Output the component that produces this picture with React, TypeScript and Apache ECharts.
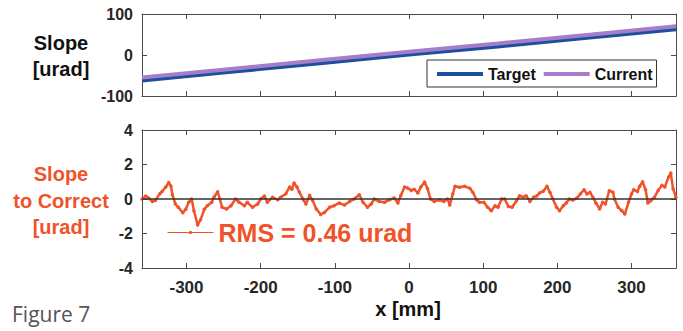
import React, { useEffect, useRef } from "react";
import * as echarts from "echarts";

// ---- data ----
const slopeX = [-360, -240, -120, 0, 120, 240, 360];
const targetSlope = [-62, -41, -20, 1, 21, 42, 63];
const currentSlope = [-55, -34, -13, 8, 28, 49, 70];

const residX = [
  -360, -355, -351, -346, -342, -336, -333, -328, -324, -321, -319, -315, -311, -305, -301, -297, -293, -290, -285,
  -281, -276, -272, -266, -263, -258, -255, -252, -246, -240, -234, -229, -222, -218, -211, -204, -200, -195, -191,
  -184, -177, -173, -166, -161, -158, -155, -151, -148, -143, -139, -134, -130, -125, -119, -114, -107, -101, -94,
  -87, -80, -74, -67, -62, -56, -51, -47, -40, -33, -26, -20, -15, -11, -6, -2, 3, 7, 12, 16, 21, 25, 29, 34, 41,
  47, 52, 55, 59, 62, 68, 75, 82, 86, 91, 95, 101, 106, 111, 116, 120, 125, 129, 134, 139, 145, 149, 154, 158, 163,
  168, 172, 176, 181, 186, 190, 194, 199, 203, 208, 212, 216, 221, 226, 231, 236, 240, 244, 248, 252, 257, 261, 265,
  270, 275, 277, 282, 287, 291, 296, 300, 303, 308, 311, 315, 319, 322, 326, 331, 336, 341, 345, 350, 353, 356, 360,
];
const residY = [
  0.0, 0.17, 0.06, -0.14, -0.08, 0.31, 0.43, 0.7, 0.95, 0.75, 0.25, -0.29, -0.48, -0.8, -0.6, -0.19, 0.0, -0.68, -1.5,
  -1.2, -0.6, -0.39, -0.19, 0.1, 0.42, 0.0, -0.48, -0.58, -0.39, 0.0, -0.19, -0.39, -0.19, -0.48, -0.29, 0.0, 0.17,
  -0.19, 0.1, -0.04, 0.1, 0.31, 0.7, 0.56, 0.92, 0.7, 0.41, 0.0, -0.29, 0.21, -0.08, -0.58, -0.9, -0.78, -0.48, -0.39,
  -0.23, -0.35, -0.14, 0.0, 0.25, -0.19, -0.48, -0.29, 0.0, -0.14, -0.19, -0.04, 0.06, -0.23, 0.21, 0.7, 0.64, 0.5,
  0.56, 0.35, 0.7, 0.99, 0.6, 0.0, -0.14, -0.06, -0.14, 0.0, -0.35, 0.29, 0.74, 0.68, 0.74, 0.62, 0.39, -0.04, -0.19,
  -0.19, -0.48, -0.68, -0.39, -0.48, 0.0, 0.0, -0.43, -0.48, -0.1, 0.19, 0.1, 0.19, -0.14, 0.1, 0.17, 0.35, 0.45,
  0.74, 0.39, 0.0, -0.48, -0.68, -0.39, -0.23, 0.0, -0.06, 0.04, 0.29, 0.54, 0.29, 0.39, 0.1, -0.23, -0.58, -0.19,
  -0.29, 0.48, 0.39, 0.0, -0.48, -0.68, -0.87, -0.19, 0.29, 0.54, 0.43, 0.74, 1.0, 0.54, -0.23, -0.1, 0.1, 0.5, 0.79,
  0.7, 1.28, 1.5, 0.6, 0.1,
];

const topYTicks = { min: -100, max: 100, interval: 100 };
const botYTicks = { min: -4, max: 4, interval: 2 };
const xRange = { min: -360, max: 360 };

const FONT = "'Liberation Sans', Arial, sans-serif";
const ORANGE = "#f0532a";
const AXIS_COLOR = "#4a4a4a";
const LABEL_COLOR = "#262626";

export default function App() {
  const ref = useRef<HTMLDivElement>(null);
  useEffect(() => {
    if (!ref.current) return;
    const chart = echarts.init(ref.current, null, { renderer: "svg" });

    const xAxisBase = (gridIndex: number, position: string, showLabel: boolean) => ({
      type: "value",
      gridIndex,
      position,
      min: xRange.min,
      max: xRange.max,
      splitNumber: 7,
      axisLine: { show: true, onZero: false, lineStyle: { color: AXIS_COLOR, width: 1 } },
      axisTick: { show: true, inside: true, length: 5, lineStyle: { color: AXIS_COLOR } },
      axisLabel: {
        show: showLabel,
        showMinLabel: false,
        showMaxLabel: false,
        margin: 11,
        fontFamily: FONT,
        fontWeight: "bold",
        fontSize: 17,
        color: LABEL_COLOR,
      },
      splitLine: { show: false },
    });

    const yAxisBase = (gridIndex: number, position: string, showLabel: boolean, t: any) => ({
      type: "value",
      gridIndex,
      position,
      min: t.min,
      max: t.max,
      interval: t.interval,
      axisLine: { show: true, onZero: false, lineStyle: { color: AXIS_COLOR, width: 1 } },
      axisTick: { show: true, inside: true, length: 5, lineStyle: { color: AXIS_COLOR } },
      axisLabel: {
        show: showLabel,
        margin: 9,
        fontFamily: FONT,
        fontWeight: "bold",
        fontSize: 16,
        color: LABEL_COLOR,
      },
      splitLine: { show: false },
    });

    const option: any = {
      animation: false,
      backgroundColor: "#ffffff",
      grid: [
        { left: 142, right: 7, top: 14, height: 82 },
        { left: 142, right: 7, top: 130, height: 138 },
      ],
      xAxis: [
        xAxisBase(0, "bottom", false),
        xAxisBase(0, "top", false),
        xAxisBase(1, "bottom", true),
        xAxisBase(1, "top", false),
      ],
      yAxis: [
        yAxisBase(0, "left", true, topYTicks),
        yAxisBase(0, "right", false, topYTicks),
        yAxisBase(1, "left", true, botYTicks),
        yAxisBase(1, "right", false, botYTicks),
      ],
      legend: [
        {
          data: [
            { name: "Target", icon: "rect" },
            { name: "Current", icon: "rect" },
          ],
          left: 427,
          top: 60,
          orient: "horizontal",
          backgroundColor: "#ffffff",
          borderColor: "#333333",
          borderWidth: 1,
          borderRadius: 0,
          padding: [6, 4, 5, 10],
          itemWidth: 46,
          itemHeight: 4,
          itemGap: 8,
          textStyle: { fontFamily: FONT, fontWeight: "bold", fontSize: 16, color: "#111111" },
        },
        {
          data: ["RMS = 0.46 urad"],
          left: 167,
          top: 220,
          padding: 0,
          itemWidth: 46,
          itemHeight: 4,
          lineStyle: { width: 1 },
          textStyle: { fontFamily: FONT, fontWeight: "bold", fontSize: 25, color: ORANGE },
        },
      ],
      series: [
        {
          name: "Target",
          type: "line",
          xAxisIndex: 0,
          yAxisIndex: 0,
          data: slopeX.map((x, i) => [x, targetSlope[i]]),
          symbol: "none",
          lineStyle: { color: "#1d4f9f", width: 4 },
          itemStyle: { color: "#1d4f9f" },
        },
        {
          name: "Current",
          type: "line",
          xAxisIndex: 0,
          yAxisIndex: 0,
          data: slopeX.map((x, i) => [x, currentSlope[i]]),
          symbol: "none",
          lineStyle: { color: "#a57dca", width: 4 },
          itemStyle: { color: "#a57dca" },
        },
        {
          name: "RMS = 0.46 urad",
          type: "line",
          xAxisIndex: 2,
          yAxisIndex: 2,
          data: residX.map((x, i) => [x, residY[i]]),
          symbol: "circle",
          symbolSize: 3.5,
          showSymbol: true,
          lineStyle: { color: ORANGE, width: 2.5 },
          itemStyle: { color: ORANGE },
          markLine: {
            silent: true,
            symbol: ["none", "none"],
            label: { show: false },
            lineStyle: { color: "#333333", width: 1.5, type: "solid" },
            data: [{ yAxis: 0 }],
          },
          z: 3,
        },
      ],
      graphic: [
        {
          type: "text",
          x: 61,
          y: 30,
          style: {
            text: "Slope\n[urad]",
            fontFamily: FONT,
            fontWeight: "bold",
            fontSize: 20,
            lineHeight: 26,
            fill: "#111111",
            align: "center",
            verticalAlign: "top",
          },
        },
        {
          type: "text",
          x: 61,
          y: 161,
          style: {
            text: "Slope\nto Correct\n[urad]",
            fontFamily: FONT,
            fontWeight: "bold",
            fontSize: 20,
            lineHeight: 26.5,
            fill: ORANGE,
            align: "center",
            verticalAlign: "top",
          },
        },
        {
          type: "text",
          x: 408,
          y: 309,
          style: {
            text: "x [mm]",
            fontFamily: FONT,
            fontWeight: "bold",
            fontSize: 20,
            fill: "#111111",
            align: "center",
            verticalAlign: "middle",
          },
        },
        {
          type: "text",
          x: 12,
          y: 314,
          style: {
            text: "Figure 7",
            fontFamily: "'Open Sans', Lato, sans-serif",
            fontSize: 21,
            lineHeight: 24,
            fill: "#555555",
            align: "left",
            verticalAlign: "middle",
          },
        },
      ],
    };

    chart.setOption(option);
    return () => chart.dispose();
  }, []);

  return (
    <div
      ref={ref}
      style={{ position: "fixed", left: 0, top: 0, width: 683, height: 331, background: "#fff" }}
    />
  );
}
